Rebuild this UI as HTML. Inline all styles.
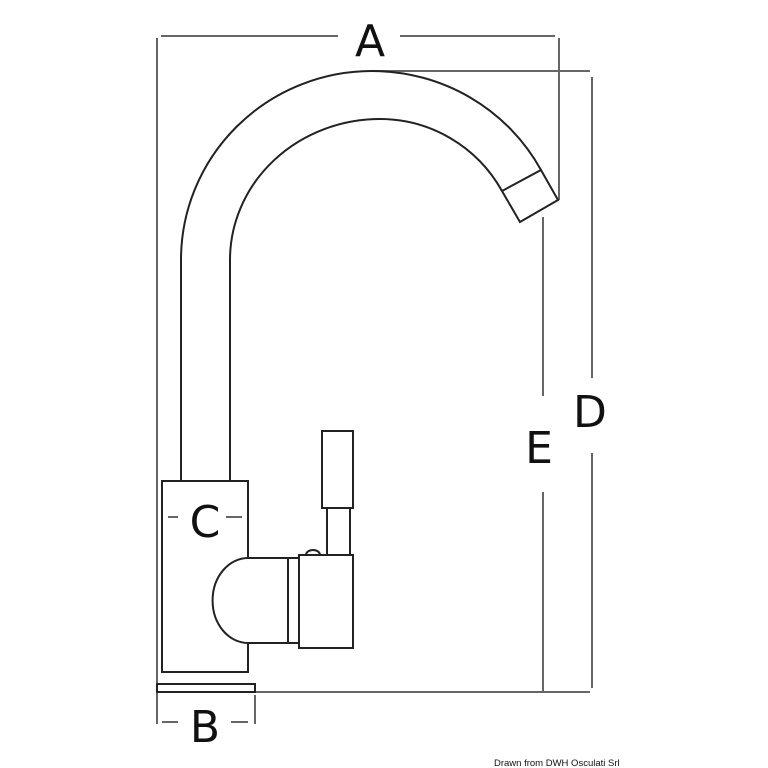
<!DOCTYPE html>
<html><head><meta charset="utf-8"><style>
html,body{margin:0;padding:0;background:#fff;}
svg{display:block}
text{font-family:"DejaVu Sans","Liberation Sans",sans-serif;fill:#111}
</style></head><body>
<svg width="768" height="768" viewBox="0 0 768 768" xmlns="http://www.w3.org/2000/svg">
<g fill="none" stroke="#666" stroke-width="2">
 <line x1="161" y1="36" x2="338" y2="36"/>
 <line x1="400" y1="36" x2="555" y2="36"/>
 <line x1="157" y1="38" x2="157" y2="724"/>
 <line x1="559" y1="38" x2="559" y2="200"/>
 <line x1="372" y1="71" x2="590" y2="71"/>
 <line x1="592" y1="77" x2="592" y2="378"/>
 <line x1="592" y1="453" x2="592" y2="688"/>
 <line x1="543" y1="217" x2="543" y2="396"/>
 <line x1="543" y1="492" x2="543" y2="692"/>
 <line x1="255" y1="692" x2="590" y2="692"/>
 <line x1="255" y1="695" x2="255" y2="724"/>
 <line x1="162" y1="722" x2="178" y2="722"/>
 <line x1="231" y1="722" x2="248" y2="722"/>
 <line x1="168" y1="517" x2="178" y2="517"/>
 <line x1="226" y1="517" x2="242" y2="517"/>
</g>
<g fill="none" stroke="#222" stroke-width="2">
 <path d="M181,481 L181,260 A191,189 0 0 1 372,71 A192,189 0 0 1 541,170"/>
 <path d="M230,481 L230,260 A150,141 0 0 1 380,119 A140,141 0 0 1 502,191"/>
 <path d="M541,170 L558,200 L520,222 L502,191 Z"/>
 <rect x="162" y="481" width="86" height="191"/>
 <rect x="157" y="684" width="98" height="8"/>
 <rect x="322" y="431" width="31" height="77"/>
 <line x1="327" y1="508" x2="327" y2="555"/>
 <line x1="350" y1="508" x2="350" y2="555"/>
 <path d="M248,558 A35,42 0 0 0 248,643 L299,643 L299,558 Z" fill="#fff"/>
 <path d="M288,558 L288,643"/>
 <rect x="299" y="555" width="54" height="93" fill="#fff"/>
 <path d="M306,555 A7,5 0 0 1 320,555"/>
</g>
<text x="370" y="56" font-size="44" text-anchor="middle">A</text>
<text x="590" y="427" font-size="44" text-anchor="middle">D</text>
<text x="539" y="463" font-size="44" text-anchor="middle">E</text>
<text x="205" y="537" font-size="44" text-anchor="middle">C</text>
<text x="205" y="742" font-size="44" text-anchor="middle">B</text>
<text x="494" y="766" font-size="9.5" style="font-family:'Liberation Sans',sans-serif">Drawn from DWH Osculati Srl</text>
</svg>
</body></html>
